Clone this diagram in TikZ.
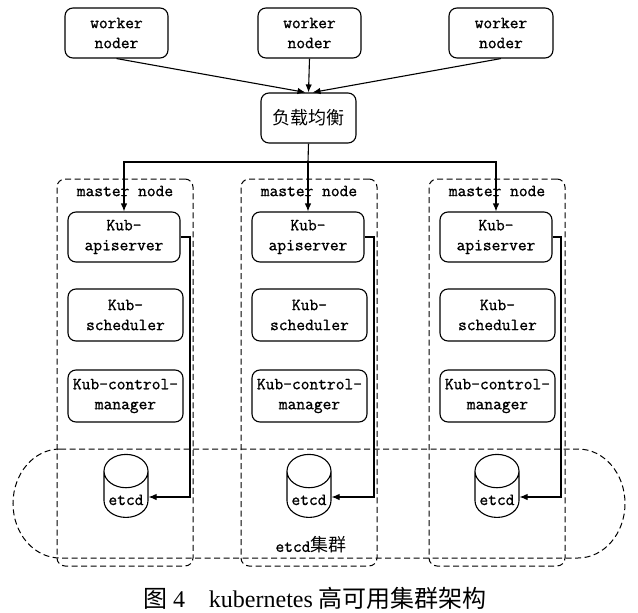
\documentclass[tikz,border=0pt]{standalone}
\usepackage{fontspec}
\setmainfont{Liberation Serif}
\newfontfamily\cjk{Noto Sans CJK SC}
\newfontfamily\boxfont{Latin Modern Mono}[BoldFont={Latin Modern Mono},BoldFeatures={FakeBold=1.1}]
\usepackage{tikz}
\usetikzlibrary{arrows.meta,shapes.geometric}

\begin{document}
\begin{tikzpicture}[x=1pt,y=-1pt]
	\tikzstyle{box}=[rectangle,draw=black,line width=1.1pt,rounded corners=8pt,minimum height=50pt,inner sep=2pt,align=center,font=\boxfont\bfseries\fontsize{17}{20}\selectfont]
	\tikzstyle{master}=[rectangle,draw=black,line width=1pt,dash pattern=on 6pt off 3.5pt,rounded corners=8pt,minimum width=136pt,minimum height=387pt]
	\tikzstyle{db}=[cylinder,shape border rotate=90,draw=black,line width=1.1pt,aspect=0.9,minimum width=44pt,minimum height=63pt,inner sep=1pt,font=\boxfont\bfseries\fontsize{17}{20}\selectfont]
	\tikzstyle{tag}=[inner sep=1pt,font=\boxfont\bfseries\fontsize{17}{20}\selectfont]
	\tikzstyle{arr}=[line width=1.1pt,-{Latex[length=8pt,width=6.5pt]}]
	\useasboundingbox (0,0) rectangle (638,613);
	% worker nodes and load balancer
	\node[box,minimum width=103pt] (w1) at (116.5,33) {worker\\noder};
	\node[box,minimum width=103pt] (w2) at (309.5,33) {worker\\noder};
	\node[box,minimum width=104pt] (w3) at (501,33) {worker\\noder};
	\node[box,minimum width=95pt,font=\cjk\fontsize{18}{20}\selectfont] (lb) at (308.5,118) {负载均衡};
	% master nodes
	\node[master] (m1) at (125,372.5) {};
	\node[master] (m2) at (309,372.5) {};
	\node[master] (m3) at (497,372.5) {};
	\node[tag] (t1) at (125,191) {master node};
	\node[tag] (t2) at (309,191) {master node};
	\node[tag] (t3) at (497,191) {master node};
	\node[box,minimum width=112pt] (a1) at (124,237) {Kub-\\apiserver};
	\node[box,minimum width=112pt] (a2) at (308,237) {Kub-\\apiserver};
	\node[box,minimum width=112pt] (a3) at (496,237) {Kub-\\apiserver};
	\node[box,minimum width=115pt,minimum height=52pt] (s1) at (125.5,315) {Kub-\\scheduler};
	\node[box,minimum width=115pt,minimum height=52pt] (s2) at (309.5,315) {Kub-\\scheduler};
	\node[box,minimum width=115pt,minimum height=52pt] (s3) at (497.5,315) {Kub-\\scheduler};
	\node[box,minimum width=115pt,minimum height=52pt] (c1) at (125.5,396) {Kub-control-\\manager};
	\node[box,minimum width=115pt,minimum height=52pt] (c2) at (309.5,396) {Kub-control-\\manager};
	\node[box,minimum width=115pt,minimum height=52pt] (c3) at (497.5,396) {Kub-control-\\manager};
	\node[db] (e1) at (126,497) {\smash{\raisebox{-8pt}{etcd}}};
	\node[db] (e2) at (309,497) {\smash{\raisebox{-8pt}{etcd}}};
	\node[db] (e3) at (497,497) {\smash{\raisebox{-8pt}{etcd}}};
	% etcd cluster
	\draw[line width=1pt,dash pattern=on 6pt off 3.5pt] (60,449) -- (578,449) arc[start angle=90,end angle=-90,x radius=47pt,y radius=54.5pt] -- (60,558) arc[start angle=270,end angle=90,x radius=47pt,y radius=54.5pt] -- cycle;
	\node[tag] (ec) at (311,545) {etcd{\cjk\mdseries\fontsize{18}{20}\selectfont 集群}};
	% connectors
	\draw[arr] (w1.south) -- ([xshift=-3pt]lb.north);
	\draw[arr] (w2.south) -- (lb.north);
	\draw[arr] (w3.south) -- ([xshift=4pt]lb.north);
	\coordinate (d) at (308,162);
	\draw[line width=1.1pt] (lb.south) -- (d);
	\draw[arr] (d) -| (a1.north);
	\draw[arr] (d) -- (a2.north);
	\draw[arr] (d) -| (a3.north);
	\coordinate (k1) at (190,497);
	\coordinate (k2) at (374,497);
	\coordinate (k3) at (561,497);
	\draw[arr] (a1.east) -| (k1) -- (e1.east);
	\draw[arr] (a2.east) -| (k2) -- (e2.east);
	\draw[arr] (a3.east) -| (k3) -- (e3.east);
	% caption
	\node (cap) at (315,598) {\fontsize{24}{28}\selectfont{\cjk 图}~4\quad kubernetes {\cjk 高可用集群架构}};
\end{tikzpicture}
\end{document}
